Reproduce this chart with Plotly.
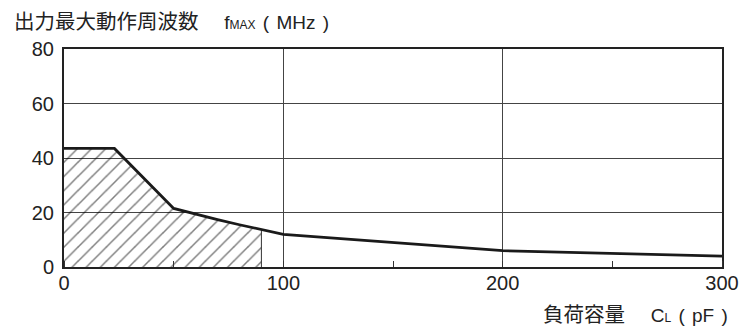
import plotly.graph_objects as go

# data
cap_pf = [0, 23, 50, 60, 70, 80, 90, 100, 200, 300]
fmax_mhz = [43.5, 43.5, 21.5, 19.4, 17.4, 15.5, 13.8, 12.0, 6.0, 4.0]
hatch_end = 90
x_ticks = [0, 100, 200, 300]
y_ticks = [0, 20, 40, 60, 80]

hx = [x for x in cap_pf if x <= hatch_end]
hy = [fmax_mhz[i] for i, x in enumerate(cap_pf) if x <= hatch_end]

fig = go.Figure()
fig.add_trace(go.Scatter(
    x=hx, y=hy, mode="lines", line=dict(width=0, color="rgba(0,0,0,0)"),
    fill="tozeroy", fillcolor="rgba(0,0,0,0)",
    fillpattern=dict(shape="/", size=10, solidity=0.15, fgcolor="#000",
                     bgcolor="rgba(0,0,0,0)"),
    hoverinfo="skip", showlegend=False))
fig.add_trace(go.Scatter(
    x=[hatch_end, hatch_end], y=[0, hy[-1]], mode="lines",
    line=dict(width=1, color="#333"), showlegend=False, hoverinfo="skip"))
fig.add_trace(go.Scatter(
    x=cap_pf, y=fmax_mhz, mode="lines",
    line=dict(width=2.8, color="#1a1a1a"), showlegend=False))

font_family = "Liberation Sans, Arial, Noto Sans CJK JP, sans-serif"
JP = "font-family:Noto Sans CJK JP;font-size:20.5px"
SP = "<span style='font-size:26px'>&nbsp;</span>"
fig.update_layout(
    width=745, height=329,
    margin=dict(l=64, r=23, t=49, b=62),
    paper_bgcolor="white", plot_bgcolor="white",
    font=dict(family=font_family, size=19, color="#222"),
    xaxis=dict(range=[0, 300], tickvals=x_ticks, ticks="", automargin=False,
               tickfont=dict(size=20),
               showgrid=True, gridcolor="#444", gridwidth=1,
               showline=True, linecolor="#222", linewidth=2, mirror=True,
               zeroline=False, ticklabelstandoff=-3,
               minor=dict(dtick=50, ticks="inside", ticklen=6, tickcolor="#333",
                          tickwidth=1, showgrid=False)),
    yaxis=dict(range=[0, 80], tickvals=y_ticks, ticks="", automargin=False,
               tickfont=dict(size=20),
               showgrid=True, gridcolor="#444", gridwidth=1,
               showline=True, linecolor="#222", linewidth=2, mirror=True,
               zeroline=False, ticklabelstandoff=4),
    annotations=[
        dict(xref="paper", yref="paper", x=(12 - 64) / 658, y=1.0, yshift=29,
             xanchor="left", yanchor="middle", showarrow=False,
             text=f"<span style='{JP}'>出力最大動作周波数　</span>&nbsp;f<span style='font-size:12px'>MAX</span>{SP}({SP}MHz{SP})"),
        dict(xref="paper", yref="paper", x=(730 - 64) / 658, y=0, yshift=-46,
             xanchor="right", yanchor="middle", showarrow=False,
             text=f"<span style='{JP}'>負荷容量　</span>&nbsp;C<span style='font-size:12px'>L</span>{SP}({SP}pF{SP})"),
    ],
)
fig.write_html("out.html", config={"displayModeBar": False},
               post_script="document.body.style.margin='0';document.body.style.padding='0';")
